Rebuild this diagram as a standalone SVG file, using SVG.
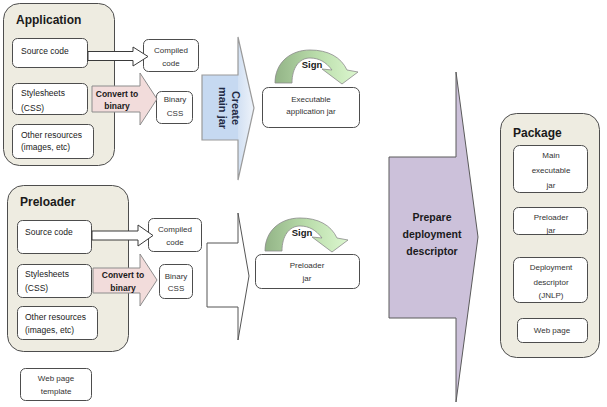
<svg xmlns="http://www.w3.org/2000/svg" width="607" height="407" viewBox="0 0 607 407">
<defs>
<linearGradient id="gSign" x1="0" y1="0" x2="1" y2="0">
<stop offset="0" stop-color="#93b487"/>
<stop offset="0.5" stop-color="#b9dcaa"/>
<stop offset="1" stop-color="#dcf7cf"/>
</linearGradient>
<linearGradient id="gBlue" x1="202" y1="0" x2="254" y2="0" gradientUnits="userSpaceOnUse">
<stop offset="0" stop-color="#c6d9f1"/>
<stop offset="0.69" stop-color="#c6d9f1"/>
<stop offset="0.7" stop-color="#d3e1f3"/>
<stop offset="1" stop-color="#eef3fa"/>
</linearGradient>
</defs>
<style>
.cont{fill:#eeece1;stroke:#4d4d4d;stroke-width:1}
.box{fill:#ffffff;stroke:#4d4d4d;stroke-width:1}
.t{font-family:"Liberation Sans",Arial,sans-serif;font-size:8.5px;fill:#1a1a1a}
.tc{font-family:"Liberation Sans",Arial,sans-serif;font-size:8px;fill:#333333;text-anchor:middle}
.title{font-family:"Liberation Sans",Arial,sans-serif;font-size:12px;font-weight:bold;fill:#1a1a1a}
.bold{font-family:"Liberation Sans",Arial,sans-serif;font-size:8.5px;font-weight:bold;fill:#1a1a1a;text-anchor:middle}
.hollow{fill:#ffffff;stroke:#3a3a3a;stroke-width:1}
.pink{fill:#f2dcdb;stroke:#8c8c8c;stroke-width:1}
.sign{fill:url(#gSign);stroke:#8a8a8a;stroke-width:0.8}
</style>

<g id="application">
<rect class="cont" x="3.5" y="3.5" width="111" height="162" rx="16"/>
<text class="title" x="16" y="24">Application</text>
</g>
<g id="app-source"><rect class="box" x="12.5" y="38.5" width="75" height="29" rx="5"/><text class="t" x="21" y="54">Source code</text></g>
<g id="app-styles"><rect class="box" x="12.5" y="83.5" width="75" height="31" rx="5"/><text class="t" x="21" y="96">Stylesheets</text><text class="t" x="21" y="111">(CSS)</text></g>
<g id="app-other"><rect class="box" x="12.5" y="124.5" width="81" height="34" rx="5"/><text class="t" x="21" y="138">Other resources</text><text class="t" x="21" y="150">(images, etc)</text></g>
<g id="app-compiled"><rect class="box" x="143.5" y="39.5" width="55" height="32" rx="5"/><text class="tc" x="171" y="53">Compiled</text><text class="tc" x="171" y="66">code</text></g>
<g id="app-binary"><rect class="box" x="156.5" y="91.5" width="36" height="32" rx="5"/><text class="tc" x="175" y="102">Binary</text><text class="tc" x="175" y="116">CSS</text></g>
<g id="app-jar"><rect class="box" x="262.5" y="87.5" width="97" height="40" rx="6"/><text class="tc" x="311" y="102">Executable</text><text class="tc" x="311" y="114">application  jar</text></g>

<g id="preloader">
<rect class="cont" x="7.5" y="185.5" width="121" height="166" rx="16"/>
<text class="title" x="20" y="206">Preloader</text>
</g>
<g id="pre-source"><rect class="box" x="17.5" y="220.5" width="74" height="33" rx="5"/><text class="t" x="25" y="235">Source code</text></g>
<g id="pre-styles"><rect class="box" x="17.5" y="264.5" width="74" height="33" rx="5"/><text class="t" x="25" y="277">Stylesheets</text><text class="t" x="25" y="291">(CSS)</text></g>
<g id="pre-other"><rect class="box" x="17.5" y="306.5" width="80" height="33" rx="5"/><text class="t" x="25" y="320">Other resources</text><text class="t" x="25" y="333">(images, etc)</text></g>
<g id="pre-compiled"><rect class="box" x="148.5" y="218.5" width="53" height="33" rx="5"/><text class="tc" x="175" y="232">Compiled</text><text class="tc" x="175" y="245">code</text></g>
<g id="pre-binary"><rect class="box" x="159.5" y="264.5" width="33" height="34" rx="5"/><text class="tc" x="176" y="279">Binary</text><text class="tc" x="176" y="291">CSS</text></g>
<g id="pre-jar"><rect class="box" x="255.5" y="254.5" width="104" height="34" rx="6"/><text class="tc" x="307" y="268">Preloader</text><text class="tc" x="307" y="281">jar</text></g>
<g id="webtemplate"><rect class="box" x="20.5" y="368.5" width="71" height="32" rx="5"/><text class="tc" x="56" y="381">Web page</text><text class="tc" x="56" y="394">template</text></g>

<g id="package">
<rect class="cont" x="500.5" y="113.5" width="99" height="244" rx="16"/>
<text class="title" x="513" y="137">Package</text>
</g>
<g id="pkg-main"><rect class="box" x="513.5" y="145.5" width="74" height="47" rx="6"/><text class="tc" x="551" y="158">Main</text><text class="tc" x="551" y="173">executable</text><text class="tc" x="551" y="188">jar</text></g>
<g id="pkg-pre"><rect class="box" x="513.5" y="207.5" width="74" height="27" rx="5"/><text class="tc" x="551" y="220">Preloader</text><text class="tc" x="551" y="233">jar</text></g>
<g id="pkg-jnlp"><rect class="box" x="513.5" y="257.5" width="74" height="45" rx="6"/><text class="tc" x="551" y="270">Deployment</text><text class="tc" x="551" y="285">descriptor</text><text class="tc" x="551" y="298">(JNLP)</text></g>
<g id="pkg-web"><rect class="box" x="517.5" y="318.5" width="70" height="24" rx="5"/><text class="tc" x="552" y="333">Web page</text></g>

<g id="connectors">
<path class="hollow" d="M88,51.5 L133,51.5 L133,47 L148,56.5 L133,66 L133,60.5 L88,60.5 Z"/>
<path class="pink" d="M92,86 L140,86 L140,73 L157,99 L140,125 L140,112 L92,112 Z"/>
<text class="bold" x="117" y="97">Convert to</text>
<text class="bold" x="117" y="109">binary</text>

<path class="hollow" d="M92,231 L138,231 L138,225 L153,235.5 L138,246 L138,240 L92,240 Z"/>
<path class="pink" d="M93,268 L140,268 L140,254 L157,280 L140,306 L140,293 L93,293 Z"/>
<text class="bold" x="123" y="278">Convert to</text>
<text class="bold" x="123" y="291">binary</text>

<path d="M202,75 L238,75 L238,37 L254,108 L238,180 L238,140 L202,140 Z" fill="url(#gBlue)" stroke="#9a9a9a" stroke-width="1.2"/>
<text transform="translate(232,108) rotate(90)" font-family="'Liberation Sans',Arial,sans-serif" font-size="11px" font-weight="bold" fill="#1f2a44" text-anchor="middle">Create</text>
<text transform="translate(219,108) rotate(90)" font-family="'Liberation Sans',Arial,sans-serif" font-size="11px" font-weight="bold" fill="#1f2a44" text-anchor="middle">main  jar</text>

<path d="M207,243 L238,243 L238,213 L249,276 L238,340 L238,307 L207,307 Z" fill="#ffffff" stroke="#555555" stroke-width="1"/>

<path d="M389,157 L456,157 L456,72 L478,237 L456,402 L456,318 L389,318 Z" fill="#ccc1da" stroke="#5a5a5a" stroke-width="1"/>
<text class="bold" x="432" y="221" style="font-size:10.5px">Prepare</text>
<text class="bold" x="432" y="238" style="font-size:10.5px">deployment</text>
<text class="bold" x="432" y="255" style="font-size:10.5px">descriptor</text>

<path class="sign" d="M275,83 C275,63 290,50 310,50 C328,50 341,57 347,70 L358,72 L342,84 L322,69 L332,70 C326,62 319,58 310,58 C299,58 292,68 292,83 Z"/>
<text class="bold" x="312" y="68" style="font-size:9.5px">Sign</text>

<path class="sign" transform="translate(-10,168)" d="M275,83 C275,63 290,50 310,50 C328,50 341,57 347,70 L358,72 L342,84 L322,69 L332,70 C326,62 319,58 310,58 C299,58 292,68 292,83 Z"/>
<text class="bold" x="302" y="236" style="font-size:9.5px">Sign</text>
</g>
</svg>
